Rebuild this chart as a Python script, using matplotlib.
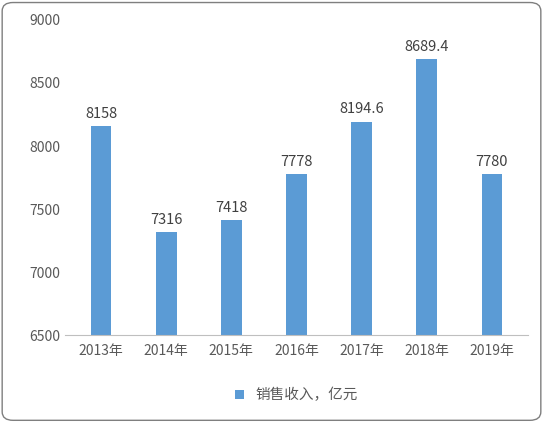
import matplotlib.pyplot as plt
from matplotlib.patches import FancyBboxPatch
plt.rcParams['font.family'] = ['Noto Sans CJK SC', 'DejaVu Sans']

years = ['2013年', '2014年', '2015年', '2016年', '2017年', '2018年', '2019年']
values = [8158, 7316, 7418, 7778, 8194.6, 8689.4, 7780]
labels = ['8158', '7316', '7418', '7778', '8194.6', '8689.4', '7780']
series = '销售收入，亿元'

fig = plt.figure(figsize=(5.43, 4.22), dpi=100)
fig.patches.append(FancyBboxPatch((0.004, 0.004), 0.992, 0.99, boxstyle='round,pad=0,rounding_size=0.02',
                                  transform=fig.transFigure, fill=False, edgecolor='#7f7f7f', lw=1))
ax = fig.add_axes([0.12, 0.205, 0.852, 0.748])
bars = ax.bar(range(len(years)), values, width=0.32, color='#5B9BD5', label=series)
ax.set_ylim(6500, 9000)
ax.set_yticks(range(6500, 9001, 500))
ax.set_xticks(range(len(years)))
ax.set_xticklabels(years)
ax.set_xlim(-0.55, len(years) - 0.45)
for b, t in zip(bars, labels):
    ax.text(b.get_x() + b.get_width() / 2, b.get_height() + 40, t, ha='center', va='bottom', fontsize=10.5, color='#404040')
for s in ['top', 'right', 'left']:
    ax.spines[s].set_visible(False)
ax.spines['bottom'].set_color('#bfbfbf')
ax.tick_params(axis='both', length=0, labelsize=10, colors='#595959')
ax.tick_params(axis='x', pad=6)
ax.legend(loc='upper center', bbox_to_anchor=(0.5, -0.125), frameon=False, fontsize=10.5,
          handlelength=0.6, handleheight=0.6, labelcolor='#595959')
fig.savefig('out.png', dpi=100)
